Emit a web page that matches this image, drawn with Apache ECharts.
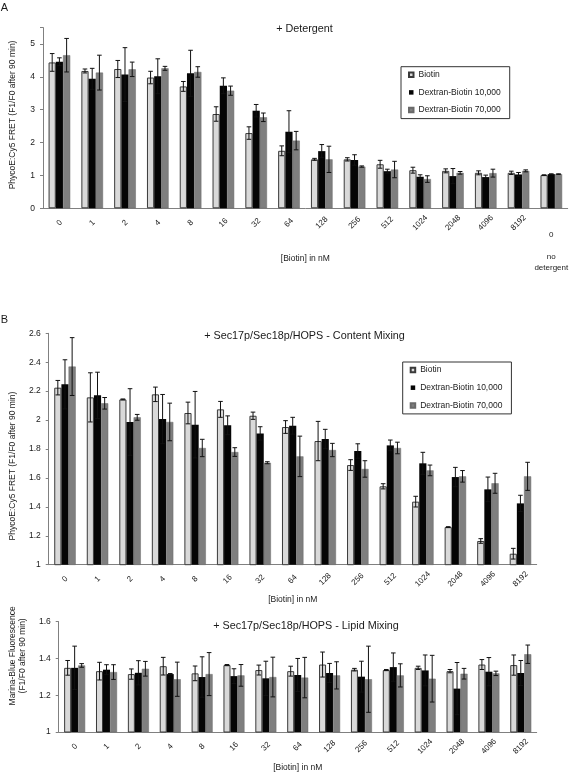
<!DOCTYPE html>
<html><head><meta charset="utf-8">
<script src="https://cdn.jsdelivr.net/npm/echarts@6/dist/echarts.min.js"></script>
<style>html,body{margin:0;padding:0;background:#fff}#c{width:572px;height:773px}</style>
</head><body><div id="c"></div>
<script>
const seriesNames = ['Biotin', 'Dextran-Biotin 10,000', 'Dextran-Biotin 70,000'];

// Panel A: + Detergent
const catsA = ['0','1','2','4','8','16','32','64','128','256','512','1024','2048','4096','8192','0'];
const noteA = 'no\ndetergent';
const biotinA    = [4.44,4.18,4.24,3.98,3.71,2.87,2.29,1.75,1.49,1.49,1.34,1.16,1.14,1.08,1.08,1.01];
const biotinErrA = [0.27,0.06,0.26,0.19,0.15,0.22,0.19,0.15,0.03,0.05,0.12,0.09,0.06,0.06,0.05,0.01];
const dex10A     = [4.46,3.94,4.07,4.02,4.11,3.73,2.97,2.33,1.74,1.47,1.13,0.96,0.98,0.95,1.03,1.04];
const dex10ErrA  = [0.12,0.32,0.82,0.53,0.70,0.24,0.19,0.64,0.20,0.16,0.06,0.06,0.23,0.06,0.06,0.01];
const dex70A     = [4.66,4.13,4.23,4.26,4.15,3.58,2.77,2.06,1.49,1.27,1.18,0.89,1.08,1.07,1.14,1.04];
const dex70ErrA  = [0.51,0.53,0.22,0.06,0.16,0.14,0.13,0.28,0.40,0.02,0.25,0.10,0.04,0.12,0.03,0.01];

// Panel B: Content mixing
const catsB = ['0','1','2','4','8','16','32','64','128','256','512','1024','2048','4096','8192'];
const biotinB    = [2.224,2.157,2.143,2.178,2.049,2.074,2.030,1.952,1.855,1.689,1.542,1.436,1.260,1.164,1.076];
const biotinErrB = [0.050,0.170,0.003,0.050,0.075,0.055,0.025,0.044,0.136,0.037,0.018,0.037,0.003,0.016,0.037];
const dex10B     = [2.247,2.171,1.987,2.007,1.968,1.964,1.908,1.961,1.869,1.786,1.825,1.701,1.606,1.521,1.424];
const dex10ErrB  = [0.170,0.160,0.230,0.170,0.230,0.065,0.046,0.058,0.067,0.050,0.037,0.076,0.067,0.085,0.056];
const dex70B     = [2.370,2.116,2.019,1.987,1.807,1.779,1.705,1.749,1.793,1.662,1.807,1.652,1.611,1.563,1.611];
const dex70ErrB  = [0.200,0.040,0.020,0.130,0.060,0.030,0.007,0.140,0.046,0.057,0.040,0.037,0.040,0.069,0.097];

// Panel C: Lipid mixing
const catsC = ['0','1','2','4','8','16','32','64','128','256','512','1024','2048','4096','8192'];
const biotinC    = [1.349,1.331,1.315,1.358,1.319,1.364,1.337,1.331,1.367,1.339,1.337,1.349,1.331,1.367,1.364];
const biotinErrC = [0.040,0.048,0.028,0.048,0.040,0.003,0.027,0.027,0.068,0.007,0.003,0.009,0.009,0.027,0.055];
const dex10C     = [1.349,1.339,1.322,1.315,1.299,1.304,1.292,1.310,1.321,1.301,1.353,1.335,1.236,1.328,1.321];
const dex10ErrC  = [0.118,0.027,0.066,0.003,0.110,0.040,0.093,0.090,0.052,0.084,0.077,0.084,0.142,0.077,0.068];
const dex70C     = [1.362,1.326,1.344,1.287,1.315,1.308,1.299,1.296,1.308,1.287,1.308,1.290,1.317,1.319,1.423];
const dex70ErrC  = [0.010,0.040,0.040,0.093,0.117,0.059,0.108,0.110,0.074,0.180,0.063,0.127,0.029,0.012,0.050];

const titleA = '+ Detergent';
const titleB = '+ Sec17p/Sec18p/HOPS - Content Mixing';
const titleC = '+ Sec17p/Sec18p/HOPS - Lipid Mixing';
const yNameA = 'PhycoE:Cy5 FRET (F1/F0 after 90 min)';
const yNameB = 'PhycoE:Cy5 FRET (F1/F0 after 90 min)';
const yNameC = 'Marina-Blue Fluorescence\n(F1/F0 after 90 min)';
const xName = '[Biotin] in nM';

const FONT = 'Liberation Sans, Arial, sans-serif';
const TXT = '#1a1a1a';
const AX = '#808080';
const styles = [
  {color: '#d9d9d9', borderColor: '#3a3a3a', borderWidth: 1},
  {color: '#050505'},
  {color: '#7f7f7f', borderColor: '#6a6a6a', borderWidth: 0.5}
];

function bar(k, data, xi, yi) {
  return {type: 'bar', name: seriesNames[k], data: data, xAxisIndex: xi, yAxisIndex: yi,
    barGap: '0%', barCategoryGap: '34%', itemStyle: styles[k], silent: true, animation: false};
}
function errRender(k) {
  return function (params, api) {
    const i = api.value(0), v = api.value(1), e = api.value(2);
    const c = api.coord([i, v]);
    const cw = api.size([1, 0])[0];
    const x = c[0] + (k - 1) * cw * 0.22;
    const yt = api.coord([i, v + e])[1];
    const yb = api.coord([i, v - e])[1];
    const h = 2.3;
    const st = {stroke: '#111', lineWidth: 1};
    return {type: 'group', children: [
      {type: 'line', shape: {x1: x, y1: yt, x2: x, y2: yb}, style: st},
      {type: 'line', shape: {x1: x - h, y1: yt, x2: x + h, y2: yt}, style: st},
      {type: 'line', shape: {x1: x - h, y1: yb, x2: x + h, y2: yb}, style: st}
    ]};
  };
}
function err(k, vals, errs, xi, yi) {
  return {type: 'custom', name: seriesNames[k] + ' err', xAxisIndex: xi, yAxisIndex: yi,
    data: vals.map((v, i) => [i, v, errs[i]]), encode: {x: 0, y: 1},
    renderItem: errRender(k), z: 5, silent: true, animation: false};
}
function xAxis(cats, grid, nameGap, rotFormatter) {
  return {type: 'category', gridIndex: grid, data: cats, position: 'bottom',
    axisLine: {lineStyle: {color: AX, width: 1}},
    axisTick: {length: 3, lineStyle: {color: AX}},
    axisLabel: {interval: 0, rotate: 45, align: 'center', verticalAlign: 'middle', margin: 14.5,
      fontSize: 8, color: TXT, fontFamily: FONT, formatter: rotFormatter},
    name: xName, nameLocation: 'middle', nameGap: nameGap,
    nameTextStyle: {fontSize: 8.5, color: TXT, fontFamily: FONT}};
}
function yAxis(grid, min, max, interval, name, nameGap, namePad, lh) {
  return {type: 'value', gridIndex: grid, min: min, max: max, interval: interval,
    axisLine: {show: true, lineStyle: {color: AX}},
    axisTick: {show: true, length: 3, lineStyle: {color: AX}},
    splitLine: {show: false},
    axisLabel: {fontSize: 8.5, color: TXT, fontFamily: FONT, margin: 8,
      formatter: v => (Math.abs(Math.round(v / interval) * interval - v) < 1e-6 && Math.abs(v - max) > 1e-6 || Math.abs(v - max) < 1e-6 && Math.abs(Math.round(max / interval) * interval - max) < 1e-6) ? String(+v.toFixed(2)) : ''},
    name: name, nameLocation: 'middle', nameGap: nameGap,
    nameTextStyle: {fontSize: 8.5, color: TXT, fontFamily: FONT, padding: namePad, lineHeight: lh}};
}
function legend(left, top) {
  return {orient: 'vertical', left: left, top: top, itemWidth: 4.5, itemHeight: 4.5, itemGap: 8.7,
    padding: [3.5, 9, 4, 7], borderColor: '#333', borderWidth: 1, backgroundColor: '#fff',
    icon: 'rect', selectedMode: false,
    textStyle: {fontSize: 8.5, color: TXT, fontFamily: FONT, lineHeight: 9},
    data: seriesNames.slice()};
}

const option = {
  animation: false,
  textStyle: {fontFamily: FONT},
  grid: [
    {left: 42.7, top: 27.6, width: 525, height: 180.7, containLabel: false},
    {left: 43.3, top: 333.3, width: 493.4, height: 231.4, containLabel: false},
    {left: 42.7, top: 621.7, width: 494, height: 111.6, containLabel: false}
  ],
  xAxis: [
    xAxis(catsA, 0, 46, (v, i) => (i === catsA.length - 1 ? '' : v)),
    {type: 'category', gridIndex: 0, data: catsA, position: 'bottom',
      axisLine: {show: false}, axisTick: {show: false},
      axisLabel: {interval: 0, margin: 21.5, fontSize: 8, lineHeight: 10.75, color: TXT, fontFamily: FONT,
        verticalAlign: 'top', align: 'center',
        formatter: (v, i) => (i === catsA.length - 1 ? v + '\n\n' + noteA : '')}},
    xAxis(catsB, 1, 30.5, v => v),
    xAxis(catsC, 2, 31, v => v)
  ],
  yAxis: [
    yAxis(0, 0, 5.5, 1, yNameA, 25, [0, 0, 0, 6], 10),
    yAxis(1, 1, 2.6, 0.2, yNameB, 27, [0, 34, 0, 0], 10),
    yAxis(2, 1, 1.6, 0.2, yNameC, 21.5, [0, 0, 0, 42], 10)
  ],
  legend: [legend(401, 66.7), legend(402.7, 362)],
  series: [
    bar(0, biotinA, 0, 0), bar(1, dex10A, 0, 0), bar(2, dex70A, 0, 0),
    err(0, biotinA, biotinErrA, 0, 0), err(1, dex10A, dex10ErrA, 0, 0), err(2, dex70A, dex70ErrA, 0, 0),
    bar(0, biotinB, 2, 1), bar(1, dex10B, 2, 1), bar(2, dex70B, 2, 1),
    err(0, biotinB, biotinErrB, 2, 1), err(1, dex10B, dex10ErrB, 2, 1), err(2, dex70B, dex70ErrB, 2, 1),
    bar(0, biotinC, 3, 2), bar(1, dex10C, 3, 2), bar(2, dex70C, 3, 2),
    err(0, biotinC, biotinErrC, 3, 2), err(1, dex10C, dex10ErrC, 3, 2), err(2, dex70C, dex70ErrC, 3, 2)
  ],
  graphic: [
    {type: 'text', x: 4.5, y: 7.5, style: {text: 'A', fontSize: 11, fill: TXT, font: '11px ' + FONT, align: 'center', verticalAlign: 'middle'}},
    {type: 'text', x: 4.5, y: 320, style: {text: 'B', fontSize: 11, fill: TXT, font: '11px ' + FONT, align: 'center', verticalAlign: 'middle'}},
    {type: 'text', x: 304.5, y: 29, style: {text: titleA, fill: TXT, font: '10.8px ' + FONT, align: 'center', verticalAlign: 'middle'}},
    {type: 'text', x: 304.5, y: 336, style: {text: titleB, fill: TXT, font: '10.8px ' + FONT, align: 'center', verticalAlign: 'middle'}},
    {type: 'text', x: 306, y: 626, style: {text: titleC, fill: TXT, font: '10.8px ' + FONT, align: 'center', verticalAlign: 'middle'}}
  ]
};
const chart = echarts.init(document.getElementById('c'), null, {renderer: 'canvas'});
chart.setOption(option);
</script></body></html>
